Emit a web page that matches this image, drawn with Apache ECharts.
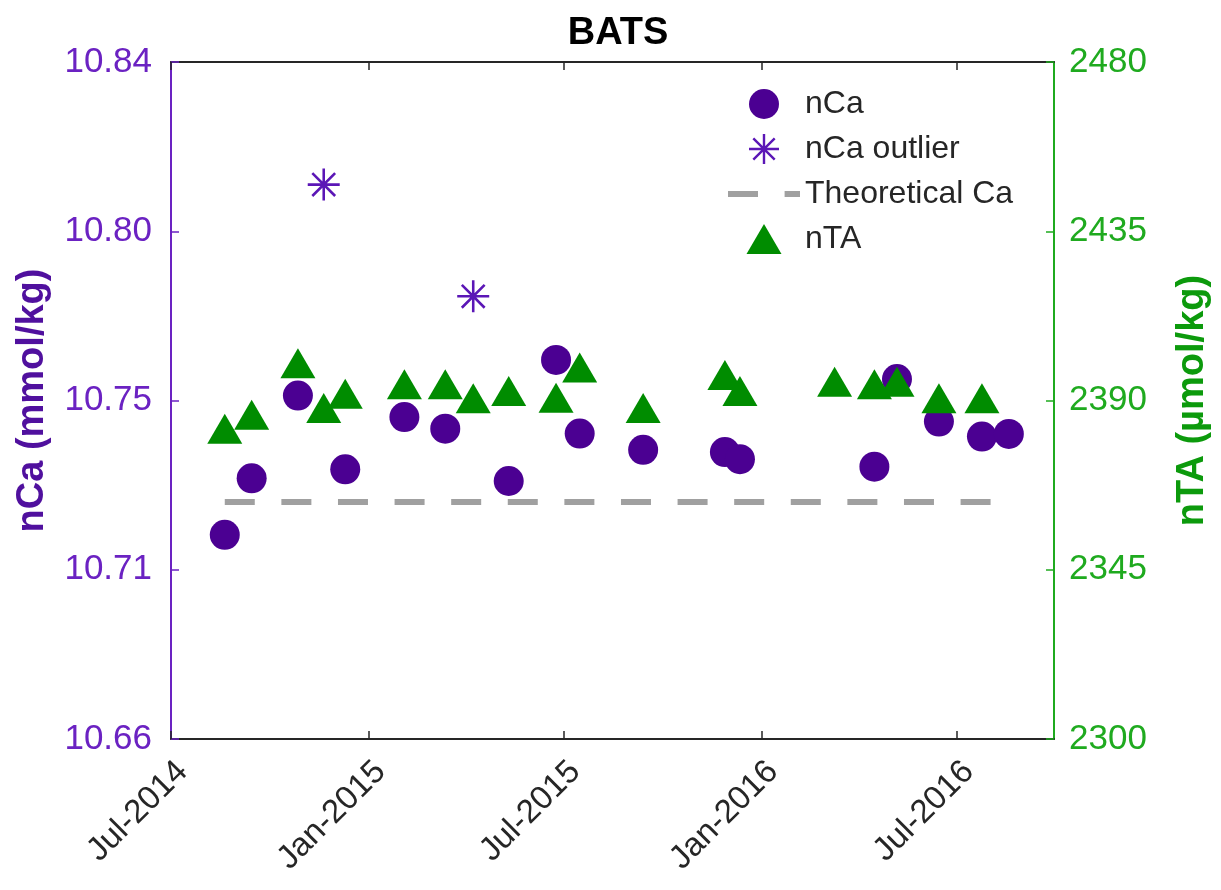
<!DOCTYPE html>
<html>
<head>
<meta charset="utf-8">
<title>BATS</title>
<script src="https://cdn.jsdelivr.net/npm/echarts@6/dist/echarts.min.js"></script>
<style>
  html, body { margin: 0; padding: 0; background: #fff; }
  #chart { width: 1221px; height: 890px; }
</style>
</head>
<body>
<div id="chart"></div>
<script>
// Sampling dates and normalised values at BATS
const ncaDates = ['2014-08-20','2014-09-14','2014-10-27','2014-12-10','2015-02-03','2015-03-13',
  '2015-05-11','2015-06-24','2015-07-16','2015-09-13','2015-11-28','2015-12-12',
  '2016-04-15','2016-05-06','2016-06-14','2016-07-24','2016-08-18'];
const ncaValues = [10.7143, 10.7293, 10.7513, 10.7317, 10.7456, 10.7425,
  10.7286, 10.7608, 10.7412, 10.7369, 10.7363, 10.7344,
  10.7324, 10.7557, 10.7444, 10.7404, 10.7411];

const outlierDates = ['2014-11-20', '2015-04-08'];
const outlierValues = [10.8074, 10.7777];

const ntaDates = ['2014-08-20','2014-09-14','2014-10-27','2014-11-20','2014-12-10','2015-02-03',
  '2015-03-13','2015-04-08','2015-05-11','2015-06-24','2015-07-16','2015-09-13',
  '2015-11-28','2015-12-12','2016-03-09','2016-04-15','2016-05-06','2016-06-14','2016-07-24'];
const ntaValues = [2382.5, 2386.2, 2399.9, 2388.0, 2391.8, 2394.3,
  2394.3, 2390.6, 2392.5, 2390.7, 2398.8, 2388.0,
  2396.8, 2392.5, 2395.0, 2394.3, 2395.0, 2390.6, 2390.6];

const theoreticalCa = 10.723;
const theoreticalSpan = ['2014-08-20', '2016-08-18'];

const xRange = ['2014-07-01', '2016-09-29'];
const xTickDates = ['2014-07-01','2015-01-01','2015-07-01','2016-01-01','2016-07-01'];
const xTickLabels = ['Jul-2014','Jan-2015','Jul-2015','Jan-2016','Jul-2016'];

const leftTickValues = [10.66, 10.705, 10.75, 10.795, 10.84];
const leftTickLabels = ['10.66', '10.71', '10.75', '10.80', '10.84'];
const rightTickValues = [2300, 2345, 2390, 2435, 2480];
const rightTickLabels = ['2300', '2345', '2390', '2435', '2480'];

// ---- helpers ----
function ts(d) {
  const p = d.split('-').map(Number);
  return Date.UTC(p[0], p[1] - 1, p[2]);
}
function pairs(dates, vals) { return dates.map((d, i) => [ts(d), vals[i]]); }
function lookup(values, labels) {
  return function (v) {
    for (let i = 0; i < values.length; i++) {
      if (Math.abs(values[i] - v) < 1e-6 * Math.max(1, Math.abs(v))) return labels[i];
    }
    return '';
  };
}

const FONT = '"Liberation Sans", Arial, Helvetica, sans-serif';
const PURPLE_AX = '#6B22C2';
const PURPLE_NAME = '#50109E';
const PURPLE_MK = '#4B0092';
const PURPLE_STAR = '#5B16B6';
const GREEN_AX = '#1FAA1F';
const GREEN_NAME = '#0C9A0C';
const GREEN_MK = '#008C00';
const GRAY = '#A0A0A0';
const DARK = '#262626';

// Asterisk built from a plus and a cross
const asterisk = 'path://M46,0L54,0L54,100L46,100Z M0,46L100,46L100,54L0,54Z ' +
  'M17.2,11.5L88.5,82.8L82.8,88.5L11.5,17.2Z M82.8,11.5L88.5,17.2L17.2,88.5L11.5,82.8Z';
// Legend glyphs
const triangleIcon = 'path://M0,30L17.5,0L35,30Z';
const dashIcon = 'path://M0,0H30V6H0Z M56.6,0H72V6H56.6Z';

const xTicks = xTickDates.map(ts);
const xFmt = lookup(xTicks, xTickLabels);

const chart = echarts.init(document.getElementById('chart'), null, { renderer: 'canvas' });

chart.setOption({
  animation: false,
  backgroundColor: '#ffffff',
  textStyle: { fontFamily: FONT },
  title: {
    text: 'BATS',
    left: 613,
    textAlign: 'center',
    top: 10,
    textStyle: { fontFamily: FONT, fontSize: 38, fontWeight: 'bold', color: '#000' }
  },
  grid: { left: 171, right: 167, top: 62, bottom: 151 },
  legend: {
    orient: 'vertical',
    left: 723,
    top: 83,
    itemWidth: 72,
    itemHeight: 30,
    itemGap: 13,
    symbolKeepAspect: true,
    textStyle: { fontFamily: FONT, fontSize: 32, color: DARK },
    data: [
      { name: 'nCa', icon: 'circle' },
      { name: 'nCa outlier', icon: asterisk },
      { name: 'Theoretical Ca', icon: dashIcon, itemStyle: { color: GRAY } },
      { name: 'nTA', icon: triangleIcon }
    ]
  },
  xAxis: [
    {
      type: 'value',
      position: 'bottom',
      min: ts(xRange[0]),
      max: ts(xRange[1]),
      splitLine: { show: false },
      axisLine: { onZero: false, lineStyle: { color: DARK, width: 2 } },
      axisTick: { inside: true, length: 8, customValues: xTicks, lineStyle: { color: DARK, width: 1.5 } },
      axisLabel: {
        customValues: xTicks,
        formatter: xFmt,
        rotate: 45,
        margin: 16,
        verticalAlign: 'top',
        fontFamily: FONT,
        fontSize: 33,
        color: DARK
      }
    },
    {
      type: 'value',
      position: 'top',
      min: ts(xRange[0]),
      max: ts(xRange[1]),
      splitLine: { show: false },
      axisLine: { onZero: false, lineStyle: { color: DARK, width: 2 } },
      axisTick: { inside: true, length: 8, customValues: xTicks, lineStyle: { color: DARK, width: 1.5 } },
      axisLabel: { show: false }
    }
  ],
  yAxis: [
    {
      type: 'value',
      position: 'left',
      min: 10.66,
      max: 10.84,
      name: 'nCa (mmol/kg)',
      nameLocation: 'middle',
      nameRotate: 90,
      nameGap: 119,
      nameTextStyle: { fontFamily: FONT, fontSize: 38, fontWeight: 'bold', color: PURPLE_NAME },
      splitLine: { show: false },
      axisLine: { show: true, onZero: false, lineStyle: { color: PURPLE_AX, width: 2 } },
      axisTick: { show: true, inside: true, length: 8, customValues: leftTickValues, lineStyle: { color: PURPLE_AX, width: 1.5 } },
      axisLabel: {
        customValues: leftTickValues,
        formatter: lookup(leftTickValues, leftTickLabels),
        margin: 19,
        fontFamily: FONT,
        fontSize: 35,
        color: PURPLE_AX
      }
    },
    {
      type: 'value',
      position: 'right',
      min: 2300,
      max: 2480,
      name: 'nTA (µmol/kg)',
      nameLocation: 'middle',
      nameRotate: 90,
      nameGap: 120,
      nameTextStyle: { fontFamily: FONT, fontSize: 38, fontWeight: 'bold', color: GREEN_NAME },
      splitLine: { show: false },
      axisLine: { show: true, onZero: false, lineStyle: { color: GREEN_AX, width: 2 } },
      axisTick: { show: true, inside: true, length: 8, customValues: rightTickValues, lineStyle: { color: GREEN_AX, width: 1.5 } },
      axisLabel: {
        customValues: rightTickValues,
        formatter: lookup(rightTickValues, rightTickLabels),
        margin: 15,
        fontFamily: FONT,
        fontSize: 35,
        color: GREEN_AX
      }
    }
  ],
  series: [
    {
      name: 'nCa',
      type: 'scatter',
      xAxisIndex: 0,
      yAxisIndex: 0,
      symbol: 'circle',
      symbolSize: 30,
      itemStyle: { color: PURPLE_MK, opacity: 1 },
      data: pairs(ncaDates, ncaValues)
    },
    {
      name: 'nCa outlier',
      type: 'scatter',
      xAxisIndex: 0,
      yAxisIndex: 0,
      symbol: asterisk,
      symbolSize: 32,
      itemStyle: { color: PURPLE_STAR, opacity: 1 },
      data: pairs(outlierDates, outlierValues)
    },
    {
      name: 'Theoretical Ca',
      type: 'line',
      xAxisIndex: 0,
      yAxisIndex: 0,
      symbol: 'none',
      color: GRAY,
      itemStyle: { color: GRAY },
      lineStyle: { color: GRAY, width: 6, type: [30, 26.6] },
      data: theoreticalSpan.map(d => [ts(d), theoreticalCa])
    },
    {
      name: 'nTA',
      type: 'scatter',
      xAxisIndex: 0,
      yAxisIndex: 1,
      symbol: 'triangle',
      symbolSize: [35, 30],
      itemStyle: { color: GREEN_MK, opacity: 1 },
      data: pairs(ntaDates, ntaValues)
    }
  ]
});
</script>
</body>
</html>
